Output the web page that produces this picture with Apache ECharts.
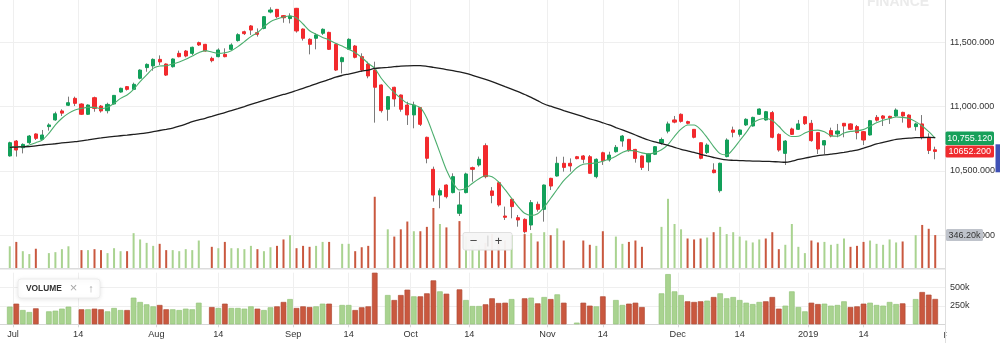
<!DOCTYPE html>
<html><head><meta charset="utf-8">
<script src="https://cdn.jsdelivr.net/npm/echarts@6/dist/echarts.min.js"></script>
<style>html,body{margin:0;padding:0;background:#fff}#c{width:1000px;height:343px}</style>
</head><body><div id="c"></div>
<script>
// ---- data (one entry per trading-day slot) ----
const open=[10617,10733,10681,10720,10788,10746,10845,10897,10967,11011,
11065,11021,10941,11070,11005,10969,11021,11114,11156,11135,
11221,11304,11317,11368,11332,11311,11415,11433,11415,11498,
11485,11376,11389,11407,11446,11514,11583,11628,11576,11609,
11736,11757,11708,11685,11765,11604,11524,11532,11571,11578,
11485,11350,11446,11472,11389,11332,11285,11169,10980,11151,
11091,11013,10936,10993,10762,10513,10313,10391,10332,10171,
10332,10526,10547,10697,10345,10409,10150,10280,10137,10124,
10080,10241,10202,10443,10461,10560,10560,10611,10617,10611,
10456,10642,10586,10650,10733,10746,10668,10617,10570,10630,
10718,10810,10897,10941,10884,10824,10720,10643,10508,10347,
10612,10819,10785,10858,10850,10941,10897,10954,10785,10637,
10827,10824,10922,10871,10798,10702,10814,10788,10871,10866,
10845,10806,10780,10917,10928,10925,10928,10956,10935,10845,
10866,10762,10665];
const close=[10720,10663,10707,10772,10754,10780,10858,10945,10950,11031,
11026,10941,11013,10987,10967,11018,11088,11143,11135,11174,
11285,11329,11368,11348,11246,11371,11389,11394,11462,11480,
11433,11358,11441,11389,11480,11560,11568,11596,11563,11700,
11752,11700,11692,11705,11589,11532,11485,11558,11602,11446,
11285,11381,11524,11384,11285,11239,11151,10969,11078,11060,
10980,10936,11013,10863,10599,10313,10347,10300,10456,10236,
10477,10513,10591,10456,10310,10236,10140,10223,10119,10028,
10254,10202,10391,10383,10560,10528,10539,10596,10591,10482,
10591,10580,10624,10684,10772,10658,10598,10528,10632,10689,
10745,10866,10880,10886,10871,10762,10599,10702,10487,10560,
10741,10801,10819,10902,10917,10982,10961,10762,10663,10733,
10785,10866,10868,10736,10671,10736,10772,10811,10850,10824,
10798,10741,10891,10895,10910,10912,10974,10928,10840,10866,
10762,10660,10652.2];
const low=[10612,10612,10637,10710,10741,10741,10814,10891,10928,11005,
11005,10936,10936,10961,10954,10948,11016,11109,11125,11130,
11213,11272,11280,11324,11239,11304,11384,11384,11402,11472,
11428,11345,11384,11384,11441,11506,11558,11558,11545,11602,
11726,11687,11653,11648,11576,11514,11407,11446,11558,11441,
11278,11259,11441,11376,11272,11221,10876,10954,10891,11000,
10961,10858,10832,10850,10560,10262,10210,10287,10326,10150,
10326,10417,10534,10443,10249,10223,10119,10132,10067,10015,
10041,10184,10106,10352,10456,10495,10495,10591,10560,10482,
10443,10547,10573,10643,10689,10650,10565,10508,10500,10624,
10705,10793,10871,10876,10863,10754,10591,10632,10482,10332,
10606,10762,10767,10850,10845,10936,10891,10754,10650,10547,
10780,10819,10858,10728,10632,10632,10762,10762,10762,10819,
10746,10702,10775,10884,10850,10866,10922,10876,10832,10814,
10746,10632,10591];
const high=[10728,10741,10715,10780,10793,10819,10871,10961,10980,11078,
11078,11026,11018,11078,11013,11031,11091,11148,11161,11187,
11291,11337,11376,11399,11337,11376,11436,11441,11467,11506,
11488,11389,11454,11454,11493,11571,11591,11635,11609,11705,
11773,11760,11713,11726,11768,11609,11532,11571,11609,11583,
11493,11389,11532,11480,11415,11350,11350,11174,11083,11155,
11095,11039,11039,10997,10767,10534,10365,10396,10482,10339,
10487,10534,10612,10715,10375,10417,10223,10287,10158,10132,
10274,10262,10395,10447,10611,10611,10598,10617,10624,10624,
10598,10650,10650,10702,10780,10750,10672,10620,10637,10694,
10760,10884,10928,10948,10891,10826,10722,10715,10560,10565,
10754,10845,10824,10910,10922,10987,10967,10967,10793,10741,
10837,10897,10928,10897,10800,10741,10837,10866,10873,10871,
10858,10811,10897,10935,10935,10930,10987,10961,10941,10876,
10935,10793,10689];
const maShort=[10687,10689,10689,10702,10720,10741,10793,10858,10910,10948,
10974,10987,10995,10995,10985,10995,11026,11065,11091,11135,
11195,11247,11298,11316,11319,11332,11348,11368,11394,11420,
11436,11425,11415,11420,11436,11467,11506,11545,11576,11622,
11661,11682,11698,11705,11690,11643,11591,11563,11539,11519,
11493,11472,11446,11420,11384,11337,11298,11221,11161,11109,
11065,11026,11013,10992,10910,10780,10643,10508,10410,10352,
10365,10405,10440,10463,10455,10415,10355,10288,10223,10171,
10155,10168,10220,10288,10358,10425,10475,10525,10553,10557,
10563,10576,10593,10615,10644,10660,10656,10641,10633,10643,
10665,10705,10770,10825,10858,10858,10822,10760,10690,10635,
10625,10670,10735,10800,10870,10900,10908,10893,10848,10795,
10768,10770,10795,10815,10818,10805,10775,10770,10795,10808,
10812,10822,10848,10875,10895,10908,10920,10917,10908,10884,
10850,10806,10755.12];
const maLong=[10684,10686,10688,10690,10696,10702,10707,10712,10718,10723,
10728,10735,10742,10750,10757,10764,10769,10774,10779,10785,
10790,10797,10806,10815,10824,10834,10848,10865,10884,10897,
10910,10925,10940,10954,10970,10985,11001,11018,11034,11050,
11065,11080,11095,11109,11126,11143,11160,11178,11195,11212,
11230,11243,11254,11265,11276,11285,11298,11302,11306,11311,
11316,11318,11319,11319,11314,11306,11298,11289,11280,11270,
11259,11244,11228,11212,11195,11176,11156,11137,11117,11095,
11073,11047,11021,11004,10987,10970,10954,10938,10922,10906,
10891,10875,10858,10838,10819,10800,10780,10760,10741,10726,
10712,10700,10684,10668,10656,10644,10630,10617,10605,10594,
10586,10583,10581,10579,10577,10576,10575,10573,10571,10568,
10576,10590,10600,10610,10619,10625,10631,10637,10645,10654,
10663,10678,10694,10710,10722,10734,10746,10751,10755,10759,
10760,10761,10760];
// volume in thousands, null = no bar
const volume=[241,282,195,168,218,null,177,186,214,241,
null,205,205,214,205,177,223,195,195,364,
305,273,245,264,205,205,195,214,205,295,
null,236,223,282,223,223,214,245,214,195,
232,245,305,345,223,245,236,245,282,282,
null,264,264,195,232,245,705,null,400,332,
400,473,382,382,423,600,450,418,null,477,
332,250,250,273,355,291,295,345,null,355,
364,286,373,345,409,295,null,23,295,255,
245,382,null,332,264,282,295,236,null,null,
423,686,450,400,314,305,314,323,373,423,
355,373,332,295,277,305,314,373,214,255,
450,236,177,295,277,282,255,264,314,236,
245,282,295,264,255,305,277,286,null,345,
441,405,346.2];
const tickSlots=[0.5,10.5,22.5,32,43.5,52,61.5,70.5,82.5,91,102.5,112,122.5,131];
const tickLabels=['Jul','14','Aug','14','Sep','14','Oct','14','Nov','14','Dec','14','2019','14'];
const febSlot=144.5, febLabel='Feb';
const priceTicks=[10000,10500,11000,11500];
const volTicks=[250,500];

// ---- build ----
const FONT='"Liberation Sans", Arial, sans-serif';
const N=open.length;
const cats=[];for(let i=0;i<N+2;i++)cats.push(String(i-1));
const UP='#12a05a',DOWN='#f22a2d',WICK='#7a7a7a';
const VUP='#a9d390',VDOWN='#c9583f',VUPB='#94c47a',VDOWNB='#b04a35';
const candleData=open.map((o,i)=>[i+1,o,close[i],low[i],high[i]]);
const bodyData=open.map((o,i)=>[i+1,o,close[i],Math.min(o,close[i]),Math.max(o,close[i])]);
const volThin=[],volWide=[];
volume.forEach((v,i)=>{if(v==null)return;const up=i===0||close[i]>=close[i-1];
  volThin.push({value:[i+1,v],itemStyle:{color:up?VUP:VDOWN}});
  volWide.push({value:[i+1,v],itemStyle:{color:up?VUP:VDOWN,borderColor:up?VUPB:VDOWNB,borderWidth:0.7}});});
const maS=maShort.map((v,i)=>[i+1,v]);
const maL=maLong.map((v,i)=>[i+1,v]);
function tickLabel(v){for(let k=0;k<tickSlots.length;k++){if(Math.abs(tickSlots[k]-v)<1e-6)return tickLabels[k];}return '';}

const chart=echarts.init(document.getElementById('c'),null,{renderer:'canvas'});
const option={
  animation:false,
  textStyle:{fontFamily:FONT},
  grid:[{left:0,right:55,top:0,height:268},{left:0,right:55,top:272.7,height:51.6}],
  xAxis:[
    {type:'category',gridIndex:0,position:'bottom',data:cats,show:false},
    {type:'category',gridIndex:1,position:'bottom',data:cats,show:false},
    {type:'value',gridIndex:0,position:'bottom',min:-1.5,max:N+0.5,axisLine:{show:false},
     axisTick:{show:false,customValues:tickSlots},axisLabel:{show:false},
     splitLine:{show:true,lineStyle:{color:'#efefef',width:1}}},
    {type:'value',gridIndex:1,position:'bottom',min:-1.5,max:N+0.5,
     axisLine:{show:true,lineStyle:{color:'#d6d6d6',width:1.2}},
     axisTick:{show:true,length:3,lineStyle:{color:'#d6d6d6'},customValues:tickSlots},
     axisLabel:{show:true,customValues:tickSlots,formatter:tickLabel,margin:6,fontFamily:FONT,fontSize:9.2,color:'#333'},
     splitLine:{show:true,lineStyle:{color:'#efefef',width:1}}}
  ],
  yAxis:[
    {type:'value',gridIndex:0,position:'right',min:9745.7,max:11829.7,
     axisLine:{show:false},axisTick:{show:false,customValues:priceTicks},
     axisLabel:{customValues:priceTicks,margin:5,fontSize:9,fontFamily:FONT,color:'#333',
       formatter:v=>v.toLocaleString('en-US',{minimumFractionDigits:3,maximumFractionDigits:3})},
     splitLine:{show:true,lineStyle:{color:'#efefef'}}},
    {type:'value',gridIndex:0,min:37.5,max:2549,show:false},
    {type:'value',gridIndex:1,position:'right',min:0,max:705,
     axisLine:{show:false},axisTick:{show:false,customValues:volTicks},
     axisLabel:{customValues:volTicks,margin:5,fontSize:9,fontFamily:FONT,color:'#333',formatter:v=>v+'k'},
     splitLine:{show:true,lineStyle:{color:'#efefef'}}}
  ],
  series:[
    {type:'bar',xAxisIndex:0,yAxisIndex:1,data:volThin,barWidth:2,z:1,silent:true,encode:{x:0,y:1}},
    {type:'candlestick',xAxisIndex:0,yAxisIndex:0,data:candleData,encode:{x:0,y:[1,2,3,4]},barWidth:1,z:2,silent:true,
     itemStyle:{color:WICK,color0:WICK,borderColor:WICK,borderColor0:WICK,borderWidth:1}},
    {type:'candlestick',xAxisIndex:0,yAxisIndex:0,data:bodyData,encode:{x:0,y:[1,2,3,4]},barWidth:3.6,z:3,silent:true,
     itemStyle:{color:UP,color0:DOWN,borderColor:UP,borderColor0:DOWN,borderWidth:1}},
    {type:'line',xAxisIndex:0,yAxisIndex:0,data:maS,encode:{x:0,y:1},smooth:0.3,showSymbol:false,z:4,silent:true,
     lineStyle:{color:'#4cae6e',width:1.1}},
    {type:'line',xAxisIndex:0,yAxisIndex:0,data:maL,encode:{x:0,y:1},smooth:0.3,showSymbol:false,z:4,silent:true,
     lineStyle:{color:'#1e1e1e',width:1.3}},
    {type:'bar',xAxisIndex:1,yAxisIndex:2,data:volWide,barWidth:5.6,z:2,silent:true,encode:{x:0,y:1}}
  ]
};
chart.setOption(option);

const last=N-1;
const yG=chart.convertToPixel({yAxisIndex:0},maShort[last]);
const yR=chart.convertToPixel({yAxisIndex:0},close[last]);
const yV=chart.convertToPixel({yAxisIndex:1},volume[last]);
const xF=chart.convertToPixel({xAxisIndex:3},febSlot);
const g=[
  {type:'text',x:898,y:2,z:0,silent:true,style:{text:'FINANCE',font:'bold 14px '+FONT,fill:'#ebebeb',align:'center',verticalAlign:'middle'}},
  {type:'rect',z:50,silent:true,shape:{x:0,y:268,width:945,height:1.4},style:{fill:'#dcdcdc'}},
  {type:'text',z:40,silent:true,x:xF,y:335.7,style:{text:febLabel,font:'9.2px '+FONT,fill:'#333',align:'center',verticalAlign:'middle'}},
  {type:'rect',z:45,silent:true,shape:{x:946.5,y:326,width:54,height:17},style:{fill:'#fff'}},
  {type:'rect',z:50,silent:true,shape:{x:945,y:0,width:1,height:343},style:{fill:'#dedede'}},
  // zoom control
  {type:'rect',z:60,silent:true,shape:{x:463,y:232.5,width:49,height:17.5,r:2},style:{fill:'rgba(246,246,246,0.96)',stroke:'#e0e0e0',lineWidth:1}},
  {type:'text',z:61,silent:true,x:473.5,y:241,style:{text:'−',font:'13px '+FONT,fill:'#444',align:'center',verticalAlign:'middle'}},
  {type:'rect',z:61,silent:true,shape:{x:487.5,y:235.5,width:0.8,height:11},style:{fill:'#c6c6c6'}},
  {type:'text',z:61,silent:true,x:498.5,y:241,style:{text:'+',font:'13px '+FONT,fill:'#444',align:'center',verticalAlign:'middle'}},
  // volume legend box
  {type:'rect',z:60,silent:true,shape:{x:18,y:279,width:82,height:19,r:3},style:{fill:'#fff',stroke:'#ececec',lineWidth:1,shadowBlur:5,shadowColor:'rgba(0,0,0,0.10)',shadowOffsetY:1}},
  {type:'text',z:61,silent:true,x:26,y:288.5,style:{text:'VOLUME',font:'bold 8.4px '+FONT,fill:'#333',align:'left',verticalAlign:'middle'}},
  {type:'text',z:61,silent:true,x:73.5,y:288.5,style:{text:'×',font:'13px '+FONT,fill:'#a8a8a8',align:'center',verticalAlign:'middle'}},
  {type:'text',z:61,silent:true,x:91,y:288.5,style:{text:'↑',font:'11px '+FONT,fill:'#a8a8a8',align:'center',verticalAlign:'middle'}},
  // last-value labels
  {type:'rect',z:70,silent:true,shape:{x:945.5,y:yG-6.8,width:48.5,height:13.6,r:1.5},style:{fill:'#17a05a'}},
  {type:'text',z:71,silent:true,x:969.7,y:yG,style:{text:maShort[last].toLocaleString('en-US',{minimumFractionDigits:3,maximumFractionDigits:3}),font:'9px '+FONT,fill:'#fff',align:'center',verticalAlign:'middle'}},
  {type:'rect',z:70,silent:true,shape:{x:945.5,y:yR-6,width:48.5,height:12,r:1.5},style:{fill:'#ef2b2e'}},
  {type:'text',z:71,silent:true,x:969.7,y:yR,style:{text:close[last].toFixed(3),font:'9px '+FONT,fill:'#fff',align:'center',verticalAlign:'middle'}},
  {type:'rect',z:70,silent:true,shape:{x:946,y:yV-6,width:37,height:12,r:1.5},style:{fill:'#bfc3cb'}},
  {type:'text',z:71,silent:true,x:964.5,y:yV,style:{text:volume[last].toFixed(2)+'k',font:'9px '+FONT,fill:'#333',align:'center',verticalAlign:'middle'}},
  {type:'rect',z:70,silent:true,shape:{x:995.5,y:144.3,width:4.5,height:28},style:{fill:'#3f51b5'}}
];
chart.setOption({graphic:g});
</script></body></html>
